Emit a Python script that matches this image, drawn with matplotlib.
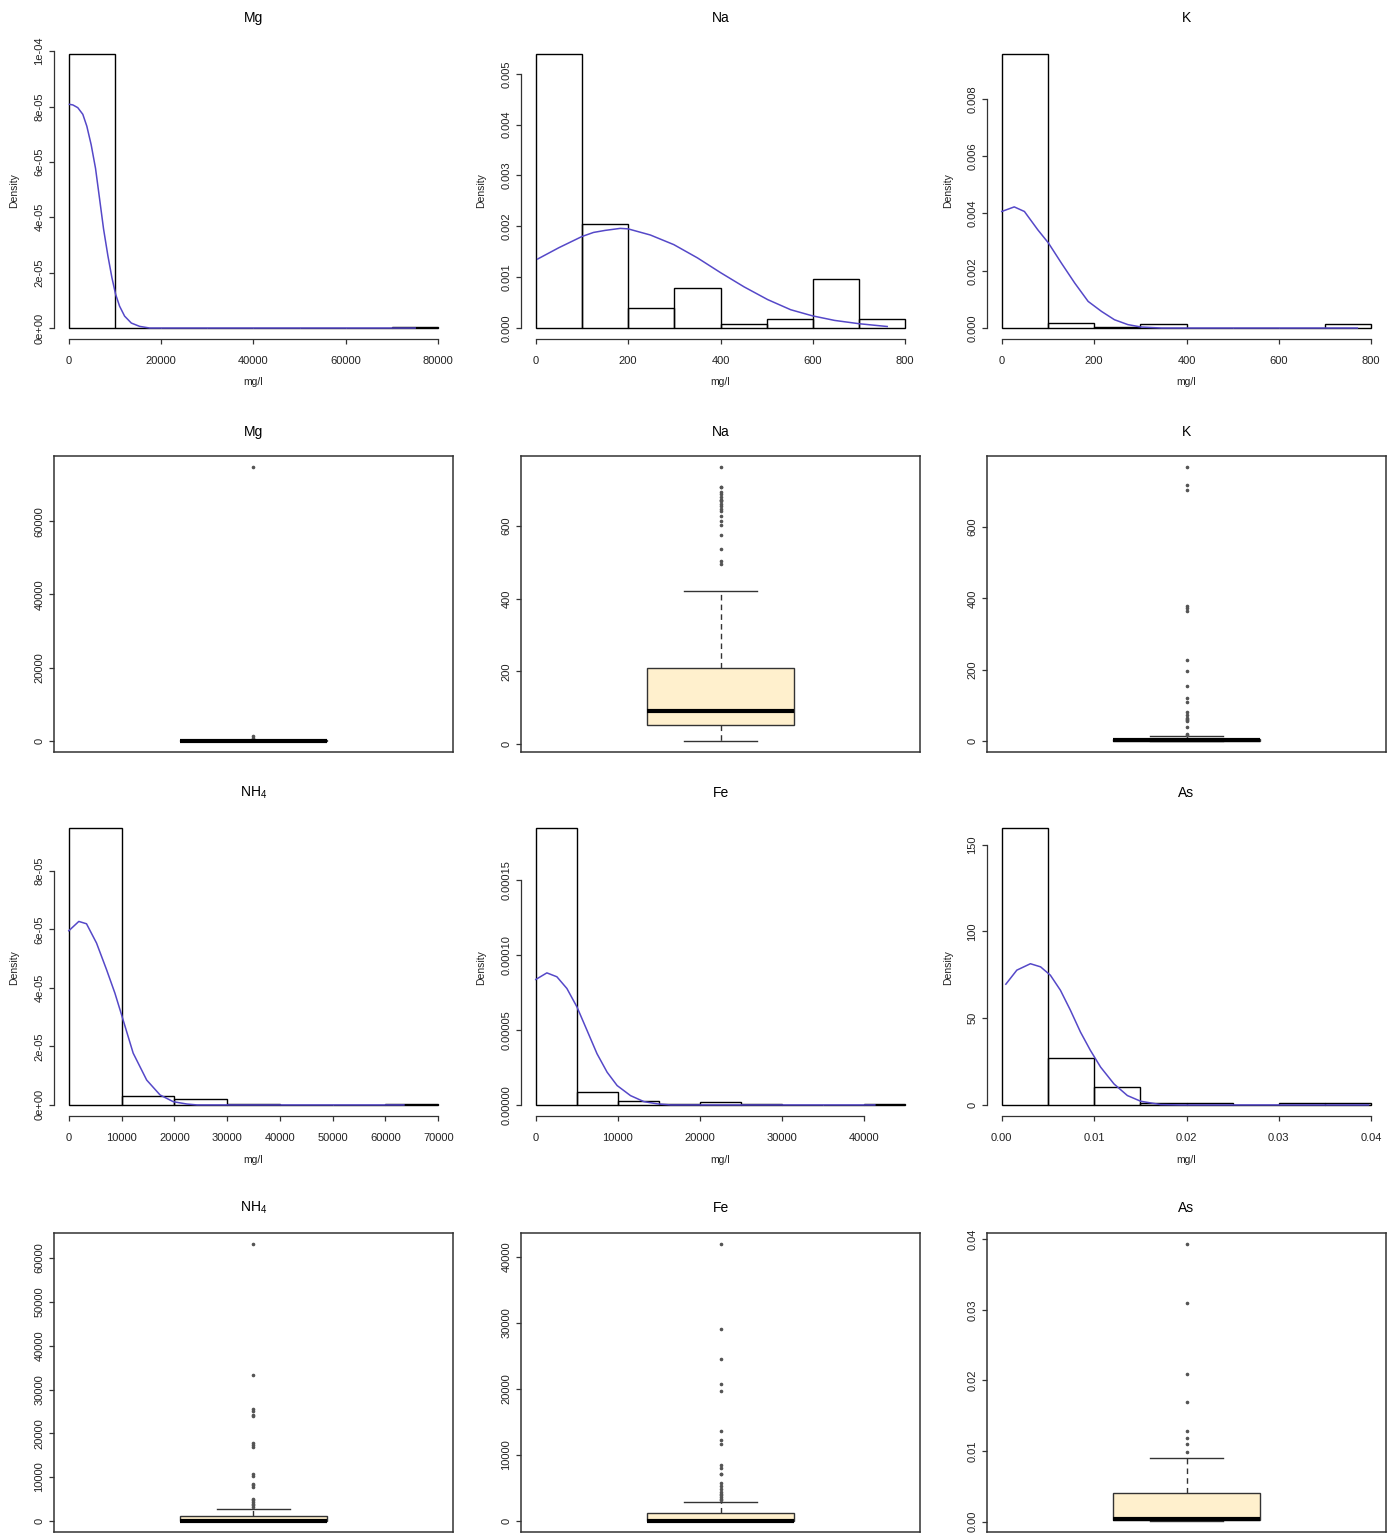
import matplotlib
matplotlib.use("Agg")
import matplotlib.pyplot as plt
import numpy as np

plt.rcParams['font.family'] = ['Liberation Sans Narrow', 'Liberation Sans', 'DejaVu Sans']
plt.rcParams['mathtext.fontset'] = 'custom'
plt.rcParams['mathtext.rm'] = 'Liberation Sans'

W, H = 1392, 1533
BLUE = '#5548c8'
INK = '#333333'
BOXFILL = '#fff0cd'

# ---------------- histograms: bin edges + densities ----------------
mg_edges = [0, 10000, 20000, 30000, 40000, 50000, 60000, 70000, 80000]
mg_dens = [0.99e-4, 0, 0, 0, 0, 0, 0, 4e-7]
mg_kde_x = [145, 870, 1950, 3040, 3910, 4850, 5790, 6660, 7530, 8470, 9340, 10140,
            11000, 12090, 13540, 15350, 17520, 75000]
mg_kde_y = [8.08e-5, 8.06e-5, 7.96e-5, 7.72e-5, 7.29e-5, 6.62e-5, 5.77e-5, 4.68e-5,
            3.58e-5, 2.61e-5, 1.82e-5, 1.22e-5, 0.79e-5, 0.43e-5, 0.18e-5, 0.06e-5, 0, 0]

na_edges = [0, 100, 200, 300, 400, 500, 600, 700, 800]
na_dens = [5.39e-3, 2.05e-3, 0.39e-3, 0.79e-3, 0.085e-3, 0.18e-3, 0.96e-3, 0.18e-3]
na_kde_x = [4, 50, 100, 125, 150, 183, 200, 248, 299, 350, 400, 451, 502, 552, 599, 647, 700, 761]
na_kde_y = [1.357e-3, 1.58e-3, 1.80e-3, 1.88e-3, 1.92e-3, 1.96e-3, 1.95e-3, 1.83e-3, 1.64e-3,
            1.38e-3, 1.09e-3, 0.81e-3, 0.56e-3, 0.36e-3, 0.24e-3, 0.15e-3, 0.085e-3, 0.03e-3]

k_edges = [0, 100, 200, 300, 400, 500, 600, 700, 800]
k_dens = [9.57e-3, 0.175e-3, 0.035e-3, 0.14e-3, 0, 0, 0, 0.14e-3]
k_kde_x = [0, 27, 49, 78, 101, 129, 158, 187, 216, 244, 273, 302, 346, 770]
k_kde_y = [4.07e-3, 4.23e-3, 4.07e-3, 3.43e-3, 2.97e-3, 2.27e-3, 1.57e-3, 0.93e-3,
           0.58e-3, 0.29e-3, 0.12e-3, 0.035e-3, 0, 0]

nh4_edges = [0, 10000, 20000, 30000, 40000, 50000, 60000, 70000]
nh4_dens = [9.46e-5, 0.31e-5, 0.205e-5, 0.035e-5, 0, 0, 0.035e-5]
nh4_kde_x = [0, 1900, 3360, 5260, 7160, 8740, 10000, 12200, 14760, 17300, 19800, 22400, 24300, 63500]
nh4_kde_y = [5.95e-5, 6.27e-5, 6.19e-5, 5.53e-5, 4.62e-5, 3.82e-5, 3.08e-5, 1.77e-5,
             0.85e-5, 0.34e-5, 0.11e-5, 0.03e-5, 0, 0]

fe_edges = [0, 5000, 10000, 15000, 20000, 25000, 30000, 35000, 40000, 45000]
fe_dens = [18.45e-5, 0.85e-5, 0.245e-5, 0.07e-5, 0.18e-5, 0.07e-5, 0, 0, 0.07e-5]
fe_kde_x = [0, 1350, 2570, 3790, 5015, 6240, 7460, 8690, 9910, 11540, 13170, 14800, 16430, 41300]
fe_kde_y = [8.36e-5, 8.8e-5, 8.54e-5, 7.76e-5, 6.53e-5, 4.97e-5, 3.41e-5, 2.18e-5,
            1.29e-5, 0.62e-5, 0.22e-5, 0.07e-5, 0, 0]

as_edges = [0, 0.005, 0.01, 0.015, 0.02, 0.025, 0.03, 0.035, 0.04]
as_dens = [159.6, 27, 10.6, 0.96, 0.96, 0, 0.96, 0.96]
as_kde_x = [0.00044, 0.00163, 0.0031, 0.0042, 0.00526, 0.00635, 0.00743, 0.00852, 0.0096,
            0.0107, 0.01215, 0.0136, 0.01505, 0.0172, 0.0194, 0.0397]
as_kde_y = [69.6, 77.7, 81.4, 79.6, 74.8, 66.1, 54.6, 42, 31.4, 21.8, 12.1, 5.4, 2.1, 0.2, 0, 0]

# ---------------- boxplot summaries ----------------
mg_box = dict(whislo=0, q1=10, med=40, q3=150, whishi=350, fliers=[74800, 700, 1300])
na_box = dict(whislo=8, q1=52, med=91, q3=208, whishi=420,
              fliers=[763, 708, 707, 695, 688, 680, 673, 671, 669, 662, 655, 648, 641,
                      627, 614, 604, 575, 538, 503, 497])
k_box = dict(whislo=0, q1=1, med=3, q3=7, whishi=14,
             fliers=[769, 718, 704, 380, 373, 364, 228, 197, 155, 120, 110, 81, 73, 66,
                     62, 59, 57, 40, 20, 17])
nh4_box = dict(whislo=0, q1=20, med=60, q3=1140, whishi=2740,
               fliers=[63200, 33300, 25500, 25200, 24200, 23900, 17700, 17300, 16900,
                       10600, 10200, 8540, 8150, 7770, 5100, 4730, 4340, 3960, 3580, 3200])
fe_box = dict(whislo=0, q1=20, med=60, q3=1210, whishi=2880,
              fliers=[41900, 29000, 24500, 20700, 19700, 13600, 12300, 11600, 8430, 8030,
                      7100, 7050, 5760, 5250, 4900, 4400, 4140, 3890, 3640, 3380, 3130])
as_box = dict(whislo=0.0001, q1=0.0003, med=0.0004, q3=0.00403, whishi=0.009,
              fliers=[0.0393, 0.031, 0.0209, 0.0169, 0.0129, 0.0119, 0.011, 0.0099])

# ---------------- tick values / labels ----------------
mg_xt = [0, 20000, 40000, 60000, 80000]
mg_yt = [0, 2e-5, 4e-5, 6e-5, 8e-5, 1e-4]
mg_ytl = ['0e+00', '2e-05', '4e-05', '6e-05', '8e-05', '1e-04']
na_xt = [0, 200, 400, 600, 800]
na_yt = [0, 0.001, 0.002, 0.003, 0.004, 0.005]
na_ytl = ['0.000', '0.001', '0.002', '0.003', '0.004', '0.005']
k_xt = [0, 200, 400, 600, 800]
k_yt = [0, 0.002, 0.004, 0.006, 0.008]
k_ytl = ['0.000', '0.002', '0.004', '0.006', '0.008']
nh4_xt = [0, 10000, 20000, 30000, 40000, 50000, 60000, 70000]
nh4_yt = [0, 2e-5, 4e-5, 6e-5, 8e-5]
nh4_ytl = ['0e+00', '2e-05', '4e-05', '6e-05', '8e-05']
fe_xt = [0, 10000, 20000, 30000, 40000]
fe_yt = [0, 5e-5, 1e-4, 1.5e-4]
fe_ytl = ['0.00000', '0.00005', '0.00010', '0.00015']
as_xt = [0, 0.01, 0.02, 0.03, 0.04]
as_xtl = ['0.00', '0.01', '0.02', '0.03', '0.04']
as_yt = [0, 50, 100, 150]

mg_bt = [0, 20000, 40000, 60000]
na_bt = [0, 200, 400, 600]
k_bt = [0, 200, 400, 600]
nh4_bt = [0, 10000, 20000, 30000, 40000, 50000, 60000]
fe_bt = [0, 10000, 20000, 30000, 40000]
as_bt = [0, 0.01, 0.02, 0.03, 0.04]
as_btl = ['0.00', '0.01', '0.02', '0.03', '0.04']

fig = plt.figure(figsize=(W / 100, H / 100), dpi=100)


def px_axes(left, top, right, bottom):
    return fig.add_axes([left / W, 1 - bottom / H, (right - left) / W, (bottom - top) / H])


def style_ticks(ax, xpad=8.5):
    ax.tick_params(axis='both', direction='out', length=3.8, width=0.9, color=INK,
                   labelsize=8, labelcolor='#222222')
    ax.tick_params(axis='x', pad=xpad)
    ax.tick_params(axis='y', pad=3.2)
    for t in ax.get_yticklabels():
        t.set_rotation(90)
        t.set_va('center')


def hist_panel(ax, edges, dens, kx, ky, xt, xtl, yt, ytl):
    edges = np.asarray(edges, dtype=float)
    ax.bar(edges[:-1], dens, width=np.diff(edges), align='edge', fill=False,
           edgecolor='black', linewidth=1.0, zorder=2)
    ax.plot(kx, ky, color=BLUE, lw=1.1, zorder=3)
    lo, hi = edges[0], edges[-1]
    ax.set_xlim(lo - 0.04 * (hi - lo), hi + 0.04 * (hi - lo))
    top = max(dens)
    ax.set_ylim(-0.04 * top, 1.04 * top)
    for s in ['top', 'right']:
        ax.spines[s].set_visible(False)
    ax.spines['left'].set_bounds(yt[0], yt[-1])
    ax.spines['bottom'].set_bounds(xt[0], xt[-1])
    for s in ['left', 'bottom']:
        ax.spines[s].set_color(INK)
        ax.spines[s].set_linewidth(0.9)
    ax.set_xticks(xt)
    ax.set_xticklabels(xtl if xtl is not None else [str(v) for v in xt])
    ax.set_yticks(yt)
    ax.set_yticklabels(ytl if ytl is not None else [str(v) for v in yt])
    style_ticks(ax)


def box_panel(ax, st, yt, ytl):
    stats = dict(st)
    ax.bxp([stats], positions=[1], widths=0.4, capwidths=[0.2], patch_artist=True,
           boxprops=dict(facecolor=BOXFILL, edgecolor=INK, linewidth=1.0),
           medianprops=dict(color='black', linewidth=3),
           whiskerprops=dict(color=INK, linewidth=1.0, linestyle=(0, (4, 3))),
           capprops=dict(color=INK, linewidth=1.0),
           flierprops=dict(marker='o', markersize=1.6, markerfacecolor='#555555',
                           markeredgecolor='#555555', linestyle='none'))
    vals = [st['whislo'], st['whishi']] + list(st['fliers'])
    lo, hi = min(vals), max(vals)
    ax.set_xlim(0.46, 1.54)
    ax.set_ylim(lo - 0.04 * (hi - lo), hi + 0.04 * (hi - lo))
    ax.set_xticks([])
    for s in ax.spines.values():
        s.set_color(INK)
        s.set_linewidth(1.1)
    ax.set_yticks(yt)
    ax.set_yticklabels(ytl if ytl is not None else [str(v) for v in yt])
    style_ticks(ax)


cols = [(54, 453), (521, 920), (987, 1386)]
centers = [(a + b) / 2 for a, b in cols]
dens_x = [14, 481, 948]

hist_row1 = [
    ('Mg', mg_edges, mg_dens, mg_kde_x, mg_kde_y, mg_xt, None, mg_yt, mg_ytl),
    ('Na', na_edges, na_dens, na_kde_x, na_kde_y, na_xt, None, na_yt, na_ytl),
    ('K', k_edges, k_dens, k_kde_x, k_kde_y, k_xt, None, k_yt, k_ytl),
]
hist_row2 = [
    ('NH$_\\mathregular{4}$', nh4_edges, nh4_dens, nh4_kde_x, nh4_kde_y, nh4_xt, None, nh4_yt, nh4_ytl),
    ('Fe', fe_edges, fe_dens, fe_kde_x, fe_kde_y, fe_xt, None, fe_yt, fe_ytl),
    ('As', as_edges, as_dens, as_kde_x, as_kde_y, as_xt, as_xtl, as_yt, None),
]
box_row1 = [('Mg', mg_box, mg_bt, None), ('Na', na_box, na_bt, None), ('K', k_box, k_bt, None)]
box_row2 = [('NH$_\\mathregular{4}$', nh4_box, nh4_bt, None), ('Fe', fe_box, fe_bt, None),
            ('As', as_box, as_bt, as_btl)]

for (top, bot, title_y, lab_y, dens_y), row in [((43, 339, 18, 382, 191), hist_row1),
                                                 ((817, 1116, 793, 1160, 968), hist_row2)]:
    for i, (title, e, d, kx, ky, xt, xtl, yt, ytl) in enumerate(row):
        ax = px_axes(cols[i][0], top, cols[i][1], bot)
        hist_panel(ax, e, d, kx, ky, xt, xtl, yt, ytl)
        fig.text(centers[i] / W, 1 - title_y / H, title, ha='center', va='center', fontsize=10)
        fig.text(centers[i] / W, 1 - lab_y / H, 'mg/l', ha='center', va='center',
                 fontsize=7.5, color='#222222')
        fig.text(dens_x[i] / W, 1 - dens_y / H, 'Density', ha='center', va='center',
                 rotation=90, fontsize=7.5, color='#222222')

for (top, bot, title_y), row in [((456, 752, 432), box_row1), ((1233, 1532, 1208), box_row2)]:
    for i, (title, st, yt, ytl) in enumerate(row):
        ax = px_axes(cols[i][0], top, cols[i][1], bot)
        box_panel(ax, st, yt, ytl)
        fig.text(centers[i] / W, 1 - title_y / H, title, ha='center', va='center', fontsize=10)

fig.savefig('out.png', dpi=100, facecolor='white')
